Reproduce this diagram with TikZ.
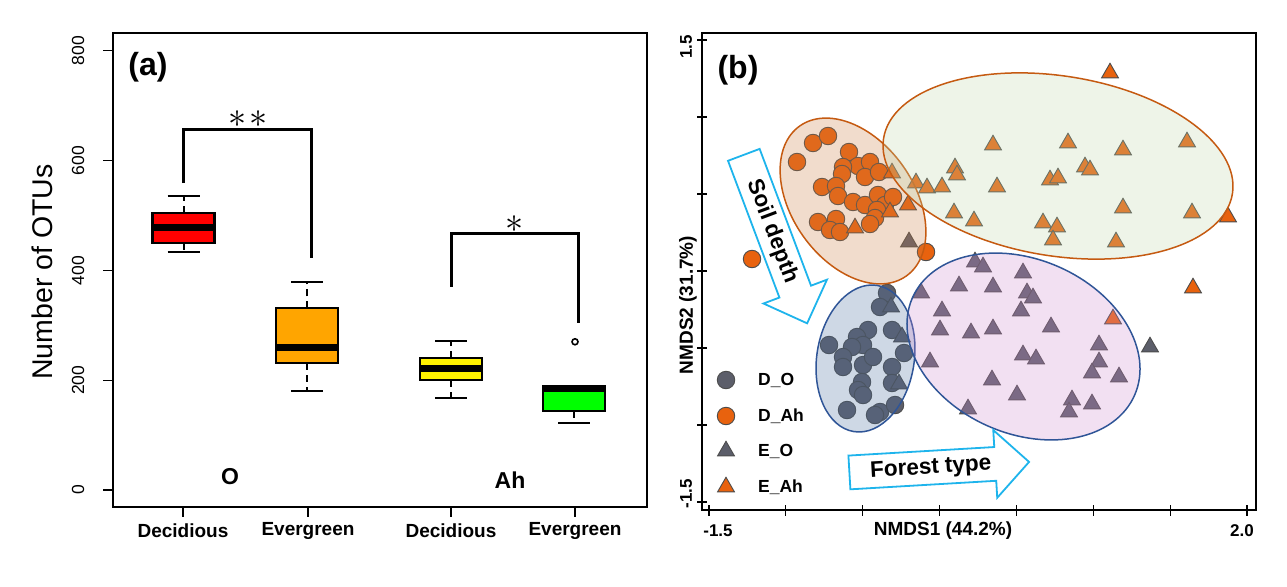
\documentclass[tikz,border=0pt]{standalone}
\usepackage{fontspec}
\setmainfont{Liberation Sans}
\usetikzlibrary{shapes.geometric,shapes.arrows,positioning}

\definecolor{ptorange}{HTML}{E8620E}
\definecolor{ptgray}{HTML}{5C5E6A}
\definecolor{ringbrown}{HTML}{C55A11}
\definecolor{ringblue}{HTML}{2F5597}
\definecolor{peach}{RGB}{203,127,67}
\definecolor{sage}{RGB}{191,215,171}
\definecolor{steel}{RGB}{75,111,159}
\definecolor{orchid}{RGB}{207,139,207}
\definecolor{flowcyan}{HTML}{1EB4EC}
\definecolor{boxorange}{HTML}{FFA500}
\definecolor{boxgreen}{HTML}{00FF00}

\begin{document}
\begin{tikzpicture}[%
    x=1pt, y=-1pt,
    dot/.style={circle, draw=black!70, line width=0.9pt, minimum size=17.5pt, inner sep=0pt},
    tri/.style={regular polygon, regular polygon sides=3, draw=black!70, line width=0.9pt, minimum size=19.5pt, inner sep=0pt},
    dO/.style={dot, fill=ptgray},
    dAh/.style={dot, fill=ptorange},
    eO/.style={tri, fill=ptgray},
    eAh/.style={tri, fill=ptorange},
    hull/.style={line width=1.5pt, fill opacity=0.27},
    tick/.style={line width=1.2pt},
    frame/.style={line width=1.8pt},
    lab/.style={font=\bfseries\fontsize{19}{19}\selectfont},
    num/.style={font=\fontsize{17.5}{17.5}\selectfont},
    bnum/.style={font=\bfseries\fontsize{17}{17}\selectfont},
    key/.style={font=\bfseries\fontsize{17.5}{17.5}\selectfont, inner sep=1pt},
    panel/.style={font=\bfseries\fontsize{32}{32}\selectfont},
    flow/.style={single arrow, draw=flowcyan, line width=1.8pt, fill=white,
      single arrow tip angle=90, single arrow head extend=17pt,
      minimum height=180pt, inner ysep=5.5pt, text height=16.5pt, text depth=4.5pt,
      font=\bfseries\fontsize{22.5}{22.5}\selectfont}
  ]
  \useasboundingbox (0,0) rectangle (1287,586);

  % (a) number of OTUs
  \draw[frame] (113,33) rectangle (647,507);
  \foreach \v in {0,200,...,800} {
    \draw[tick] (103,{490-0.549*\v}) -- (113,{490-0.549*\v});
    \node[num, rotate=90] (ya\v) at (78,{490-0.549*\v}) {\v};
  }
  \begin{scope}[shift={(0,490)}, yscale=-0.549]
    \foreach \cx/\lo/\qa/\md/\qb/\hi/\col in {183.5/433/450/479/505/535/red,
        307/180/231/259/331/379/boxorange, 451/168/200/222/240/271/yellow,
        574/122/144/185/189/189/boxgreen} {
      \draw[line width=2pt, dash pattern=on 7pt off 5pt] (\cx,\qb) -- (\cx,\hi) (\cx,\qa) -- (\cx,\lo);
      \draw[line width=2.2pt] (\cx-16,\hi) -- (\cx+16,\hi) (\cx-16,\lo) -- (\cx+16,\lo);
      \draw[line width=2.4pt, fill=\col] (\cx-31,\qa) rectangle (\cx+31,\qb);
      \draw[line width=7pt] (\cx-30,\md) -- (\cx+30,\md);
    }
    \node[circle, draw, line width=1.6pt, minimum size=6pt, inner sep=0pt] (outlier) at (575,270) {};
    \draw[line width=3pt] (183,559) |- (311,657) -- (311,423);
    \draw[line width=3pt] (451,370) |- (578,468) -- (578,304);
  \end{scope}
  \node (sig1) at (248,119) {\fontsize{24.88}{24.88}\selectfont\scalebox{1.45}{$\ast$\kern1.5pt$\ast$}};
  \node (sig2) at (515,224) {\fontsize{24.88}{24.88}\selectfont\scalebox{1.45}{$\ast$}};
  \foreach \x/\t [count=\i] in {183/Decidious, 308/Evergreen, 451/Decidious, 575/Evergreen} {
    \draw[tick] (\x,507) -- (\x,517);
    \node[lab] (xa\i) at (\x,531) {\t};
  }
  \node[font=\bfseries\fontsize{23}{23}\selectfont] (layo) at (230,477) {O};
  \node[font=\bfseries\fontsize{23}{23}\selectfont] (layah) at (510,480) {Ah};
  \node[panel] (pa) at (148,67) {(a)};
  \node[font=\fontsize{28.5}{28.5}\selectfont, rotate=90] (ylaba) at (42,272) {Number of OTUs};

  % (b) NMDS
  \draw[frame] (702,33) rectangle (1256,510);
  \foreach \k in {0,...,6}
    \draw[tick] (697,{40+77*\k}) -- (707,{40+77*\k});
  \foreach \k in {0,...,7}
    \draw[tick] ({709+76.86*\k},505) -- ({709+76.86*\k},516);
  \node[bnum, rotate=90] (yb1) at (686,47) {1.5};
  \node[bnum, rotate=90] (yb2) at (686,494) {-1.5};
  \node[bnum] (xb1) at (718,531) {-1.5};
  \node[bnum] (xb2) at (1242,531) {2.0};
  \node[lab] (xlabb) at (943,531) {NMDS1 (44.2\%)};
  \node[lab, rotate=90] (ylabb) at (688,305) {NMDS2 (31.7\%)};

  \foreach \x/\y [count=\i] in {887/293, 880/307, 829/345, 868/330, 857/337, 863/345, 852/347,
      843/357, 843/367, 863/365, 873/357, 892/330, 904/353, 892/367, 892/383, 862/382,
      858/390, 863/395, 847/410, 880/412, 895/405, 875/415}
    \node[dO] (do\i) at (\x,\y) {};
  \foreach \x/\y [count=\i] in {797/162, 813/143, 828/136, 849/152, 858/166, 870/162, 865/177,
      879/172, 843/167, 842/174, 822/187, 836/186, 838/196, 853/202, 865/205, 878/195,
      885/205, 893/197, 877/210, 875/218, 870/224, 818/222, 836/219, 830/230, 840/232,
      926/252, 752/259}
    \node[dAh] (dah\i) at (\x,\y) {};
  \foreach \x/\y [count=\i] in {909/242, 891/307, 902/337, 899/384, 975/262, 983/267, 1023/273,
      921/293, 959/286, 993/287, 1027/293, 1033/298, 1021/311, 942/311, 940/330, 971/333,
      993/329, 1051/327, 930/362, 1023/355, 1036/359, 992/380, 1017/395, 968/409, 1099/345,
      1099/362, 1092/373, 1119/377, 1072/400, 1069/412, 1092/404, 1150/347}
    \node[eO] (eo\i) at (\x,\y) {};
  \foreach \x/\y [count=\i] in {892/173, 916/183, 927/188, 942/187, 955/168, 957/175, 993/145,
      997/187, 908/205, 890/212, 855/228, 954/213, 974/221, 1110/73, 1068/143, 1123/150,
      1187/142, 1085/167, 1090/170, 1050/180, 1058/178, 1123/208, 1192/213, 1228/217,
      1043/223, 1057/227, 1053/240, 1116/242, 1113/319, 1193/288}
    \node[eAh] (eah\i) at (\x,\y) {};

  \draw[hull, draw=ringbrown, fill=peach, rotate around={-54.6:(853,201)}] (853,201) ellipse (92 and 61);
  \draw[hull, draw=ringbrown, fill=sage, rotate around={-9:(1058,166)}] (1058,166) ellipse (176.6 and 90);
  \draw[hull, draw=ringblue, fill=steel, rotate around={81:(865.5,358.5)}] (865.5,358.5) ellipse (74 and 48.7);
  \draw[hull, draw=ringblue, fill=orchid, rotate around={-23.6:(1023.5,346.5)}] (1023.5,346.5) ellipse (121.3 and 87.1);

  \node[dO] (kdo) at (726,380) {};
  \node[dAh] (kdah) at (726,416) {};
  \node[eO] (keo) at (726,451) {};
  \node[eAh] (keah) at (726,487) {};
  \node[key, right=31pt of kdo.center] (tdo) {D\_O};
  \node[key, right=31pt of kdah.center] (tdah) {D\_Ah};
  \node[key, right=31pt of keo.center] (teo) {E\_O};
  \node[key, right=31pt of keah.center] (teah) {E\_Ah};

  \node[flow, rotate=-69.4, anchor=tail] (soil) at (743.5,154) {Soil depth};
  \node[flow, rotate=3.35, anchor=tail] (forest) at (848.5,472.5) {Forest type};
  \node[panel] (pb) at (738,70) {(b)};
\end{tikzpicture}
\end{document}
